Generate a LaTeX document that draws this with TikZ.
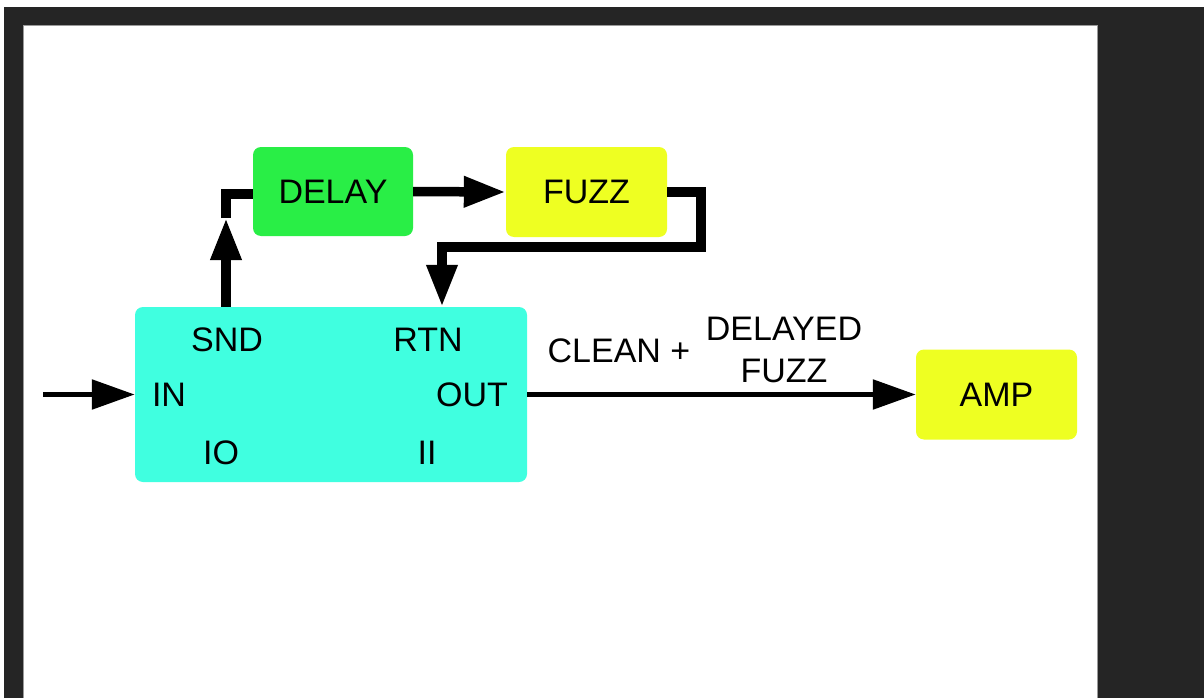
\documentclass[tikz,border=0pt]{standalone}
\usepackage{fontspec}
\setmainfont{Liberation Sans}
\usetikzlibrary{arrows.meta}
\definecolor{bgdark}{HTML}{252525}
\definecolor{edgegray}{HTML}{9A9A9A}
\definecolor{delaygreen}{HTML}{29EE46}
\definecolor{fuzzyellow}{HTML}{EEFF22}
\definecolor{maincyan}{HTML}{40FFE0}
\tikzset{
  box/.style={rounded corners=8pt, inner sep=0pt, font=\fontsize{34}{38}\selectfont, text=black},
  lbl/.style={inner sep=0pt, font=\fontsize{34}{38}\selectfont, text=black},
  bigline/.style={line width=9.5pt, draw=black},
  smallline/.style={line width=5.5pt, draw=black},
  bighead/.style={-{Triangle[length=42pt,width=29pt]}},
  smallhead/.style={-{Triangle[length=43pt,width=29pt]}}
}
\begin{document}
\begin{tikzpicture}[x=1pt,y=-1pt]
\useasboundingbox (0,0) rectangle (1204,698);
% background
\fill[bgdark] (0,0) rectangle (1204,698);
\fill[white] (0,0) rectangle (1204,7);
\fill[white] (0,0) rectangle (4,698);
\fill[white] (23,26) rectangle (1097,698);
\draw[edgegray, line width=1pt] (23,698) -- (23,26) -- (1097,26) -- (1097,698);

% boxes
\node[box, fill=delaygreen, minimum width=160pt, minimum height=89pt] (delay) at (333,191.5) {DELAY};
\node[box, fill=fuzzyellow, minimum width=161pt, minimum height=90pt] (fuzz) at (586.5,192) {FUZZ};
\node[box, fill=maincyan, minimum width=392pt, minimum height=175pt] (main) at (331,394.5) {};
\node[box, fill=fuzzyellow, minimum width=161pt, minimum height=90pt] (amp) at (996.5,394.5) {AMP};

% labels in main box
\node[lbl] (snd) at (227,340) {SND};
\node[lbl] (rtn) at (428,340) {RTN};
\node[lbl] (in) at (169,395) {IN};
\node[lbl] (out) at (472,395) {OUT};
\node[lbl] (io) at (221,453) {IO};
\node[lbl] (ii) at (427,453) {II};

% output label
\node[lbl] (clean) at (619,351) {CLEAN +};
\node[lbl, align=center, font=\fontsize{34}{42}\selectfont] (delayed) at (784,350) {DELAYED\\FUZZ};

% input and output
\coordinate (start) at (43,394.5);
\draw[smallline, smallhead] (start) -- (main.west);
\draw[smallline, smallhead] (main.east) -- (amp.west);

% send loop
\coordinate (m1) at (226,218);
\coordinate (c1) at (226,194);
\draw[bigline, bighead] (main.north -| c1) -- (m1);
\draw[bigline] (m1) -- (c1) -- (c1 -| delay.west);
\draw[bigline, bighead] (delay.east) -- (fuzz.west);

% return loop
\coordinate (c2) at (701,192);
\coordinate (c3) at (442,247);
\draw[bigline, bighead] (fuzz.east) -- (c2) |- (c3) -- (main.north -| c3);
\end{tikzpicture}
\end{document}
